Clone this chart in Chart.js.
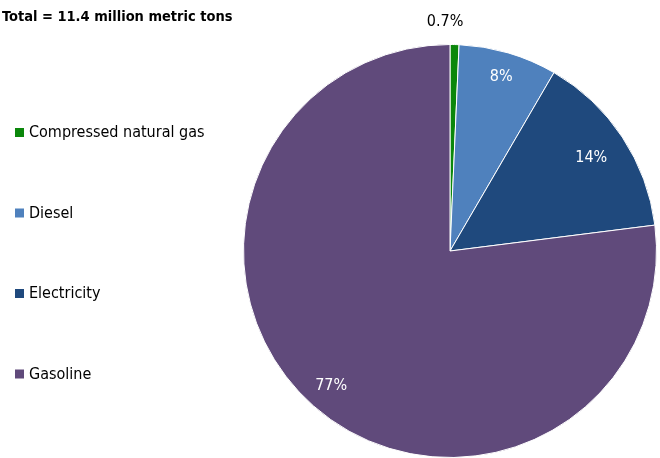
<!DOCTYPE html>
<html>
<head>
<meta charset="utf-8">
<script src="https://cdn.jsdelivr.net/npm/chart.js@4"></script>
<style>
  html, body { margin: 0; padding: 0; background: #fff; overflow: hidden; }
  #wrap { position: relative; width: 660px; height: 458px; }
</style>
</head>
<body>
<div id="wrap"><canvas id="pieChart"></canvas></div>
<script>
const title = 'Total = 11.4 million metric tons';
const categories = ['Compressed natural gas', 'Diesel', 'Electricity', 'Gasoline'];
const shares = [0.7, 7.7, 14.6, 77.0];
const shareLabels = ['0.7%', '8%', '14%', '77%'];
const colors = ['#0b870b', '#4f81bd', '#1f497d', '#604a7b'];

const FONT = '"DejaVu Sans Condensed", "Liberation Sans Narrow", sans-serif';
// how far out each slice label sits (share of the radius)
const labelRadius = [1.11, 0.88, 0.82, 0.87];

// title, left legend and slice labels, drawn straight on the canvas
const extras = {
    id: 'extras',
    afterDraw(chart) {
        const ctx = chart.ctx;
        ctx.save();
        ctx.textBaseline = 'middle';
        ctx.textAlign = 'left';
        ctx.fillStyle = '#000';
        ctx.font = 'bold 14.5px ' + FONT;
        ctx.fillText(title, 2, 17);

        ctx.font = '16px ' + FONT;
        categories.forEach((c, i) => {
            const y = 133 + i * 80.5;
            ctx.fillStyle = colors[i];
            ctx.fillRect(15, y - 5, 9, 9);
            ctx.fillStyle = '#000';
            ctx.fillText(c, 29, y);
        });

        const meta = chart.getDatasetMeta(0);
        ctx.textAlign = 'center';
        meta.data.forEach((arc, i) => {
            const mid = (arc.startAngle + arc.endAngle) / 2;
            const r = arc.outerRadius * labelRadius[i];
            let x = arc.x + Math.cos(mid) * r;
            const y = arc.y + Math.sin(mid) * r;
            if (labelRadius[i] > 1) {
                x -= 10;
                ctx.fillStyle = '#000';
            } else {
                ctx.fillStyle = '#fff';
            }
            ctx.fillText(shareLabels[i], x, y);
        });
        ctx.restore();
    }
};

new Chart(
    document.getElementById('pieChart'),
    {
        type: 'pie',
        data: {
            labels: categories,
            datasets: [{
                data: shares,
                backgroundColor: colors,
                borderColor: '#fff',
                borderWidth: 1
            }]
        },
        options: {
            responsive: true,
            maintainAspectRatio: false,
            animation: false,
            layout: { padding: { left: 242, right: 2, top: 44, bottom: -3 } },
            plugins: {
                legend: { display: false },
                tooltip: { enabled: false }
            }
        },
        plugins: [extras]
    }
);
</script>
</body>
</html>
